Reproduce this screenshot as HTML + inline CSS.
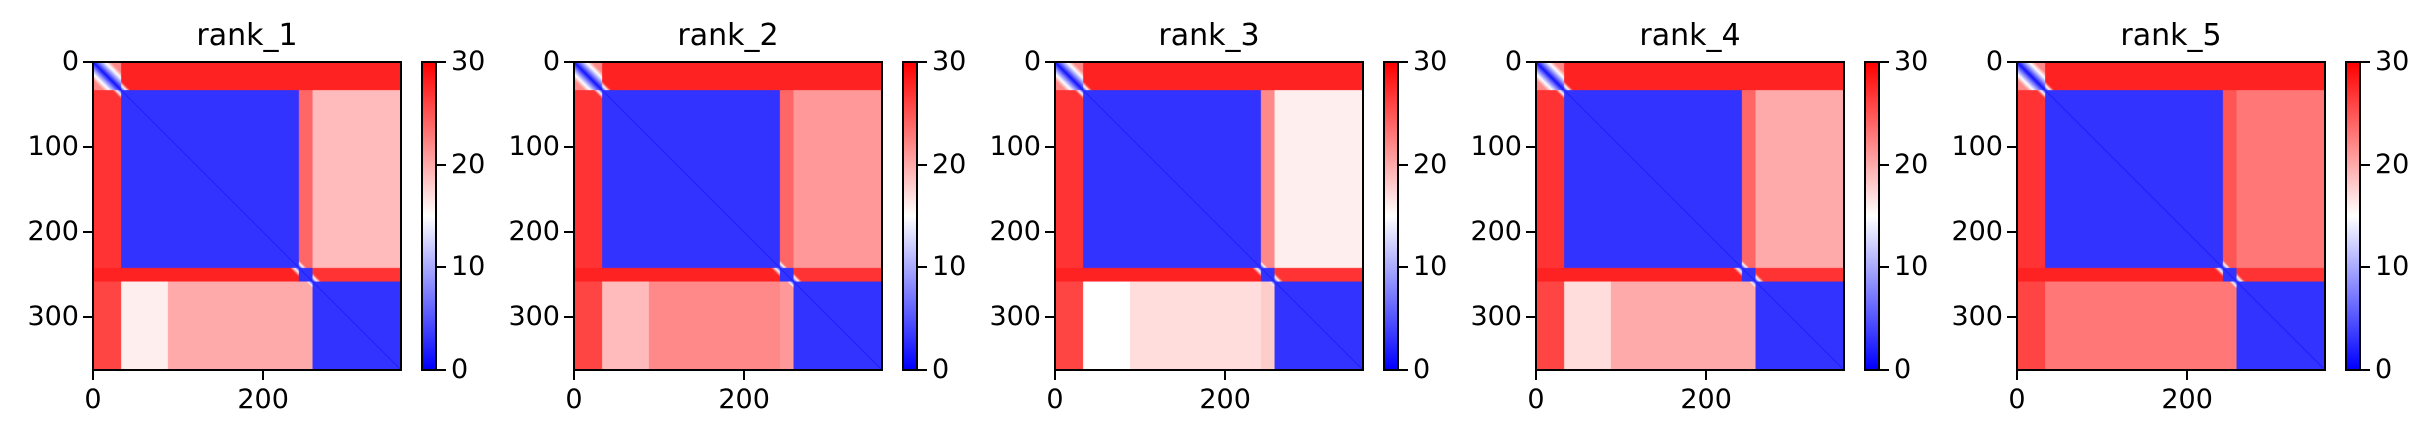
<!DOCTYPE html>
<html><head><meta charset="utf-8">
<style>
body{margin:0;background:#fff;width:2435px;height:438px;overflow:hidden;position:relative;font-family:"DejaVu Sans","Liberation Sans",sans-serif;}
canvas{position:absolute}
.frame{position:absolute;border:2px solid #000;box-sizing:border-box}
.cbar{position:absolute;background:linear-gradient(to top,#0000ff,#ffffff 50%,#ff0000);border:2px solid #000;box-sizing:border-box}
.t{position:absolute;font-size:27px;color:#000;line-height:1;white-space:nowrap}
.title{position:absolute;font-size:30px;line-height:1;white-space:nowrap}
.tk{position:absolute;background:#000}
</style></head><body>
<div id="root"></div>
<script>
// ---- data ----
const panelTitles = ["rank_1","rank_2","rank_3","rank_4","rank_5"];
const nRes = 362;
const segmentBounds = [0, 33, 88, 242, 258, 362]; // N-term, domain A1, domain A2, linker, domain B
// block PAE values per panel (rows x cols in segment order)
const pae1 = [[22,28,28,28,28],[27,3,3,24,19],[27,3,3,24,19],[28,28,28,3,27],[26,16,20,20,3]];
const pae2 = [[22,28,28,28,28],[27,3,3,24,21],[27,3,3,24,21],[28,28,28,3,27],[26,19,22,21,3]];
const pae3 = [[22,28,28,28,28],[27,3,3,22,16],[27,3,3,22,16],[28,28,28,3,27],[26,15,17,18,3]];
const pae4 = [[22,28,28,28,28],[27,3,3,24,20],[27,3,3,24,20],[28,28,28,3,27],[26,17,20,20,3]];
const pae5 = [[22,28,28,28,28],[27,3,3,25,23],[27,3,3,25,23],[28,28,28,3,27],[26,23,23,23,3]];
const panelPae = [pae1,pae2,pae3,pae4,pae5];
const xTicks = [0,200];
const yTicks = [0,100,200,300];
const cbTicks = [0,10,20,30];
const vmax = 30;

const root = document.getElementById('root');
const plotW = 308, plotTop = 62, panelStep = 481, firstLeft = 93;
function seg(i){for(let s=0;s<segmentBounds.length-1;s++){if(i<segmentBounds[s+1])return s;}return segmentBounds.length-2;}
function color(v){const t=Math.max(0,Math.min(1,v/vmax));
  if(t<0.5){const f=t/0.5;return [Math.round(255*f),Math.round(255*f),255];}
  const f=(t-0.5)/0.5;return [255,Math.round(255*(1-f)),Math.round(255*(1-f))];}
function mk(tag,cls,name,css){const e=document.createElement(tag);if(cls)e.className=cls;
  
  
  Object.assign(e.style,css);root.appendChild(e);return e;}

panelTitles.forEach((title,p)=>{
  const left = firstLeft + p*panelStep;
  const M = panelPae[p];
  const sx = v => left + v*plotW/nRes;
  const sy = v => plotTop + v*plotW/nRes;
  const cv = document.createElement('canvas');
  
  
  cv.width=nRes;cv.height=nRes;
  Object.assign(cv.style,{left:left+'px',top:plotTop+'px',width:plotW+'px',height:plotW+'px'});
  root.appendChild(cv);
  const ctx=cv.getContext('2d');const img=ctx.createImageData(nRes,nRes);
  for(let i=0;i<nRes;i++){const si=seg(i);for(let j=0;j<nRes;j++){const sj=seg(j);
    let v=M[si][sj];
    const d=Math.abs(i-j);v=Math.min(v,1+d*(si===0&&sj===0?1.0:2.5));
    const [r,g,b]=color(v);const k=(i*nRes+j)*4;
    img.data[k]=r;img.data[k+1]=g;img.data[k+2]=b;img.data[k+3]=255;}}
  ctx.putImageData(img,0,0);
  mk('div','frame','plot-frame-'+(p+1),{left:(left-1)+'px',top:(plotTop-1)+'px',width:(plotW+2)+'px',height:(plotW+2)+'px'});
  const tt=mk('div','title','panel-title-'+(p+1),{left:(left+plotW/2-60)+'px',width:'120px',textAlign:'center',top:'21px'});tt.textContent=title;
  yTicks.forEach(v=>{const y=sy(v);
    mk('div','tk','y-tick-'+v,{left:(left-10)+'px',top:(y-1)+'px',width:'10px',height:'2px'});
    const l=mk('div','t','y-tick-label-'+v,{left:(left-114)+'px',width:'100px',textAlign:'right',top:(y-14)+'px'});l.textContent=v;});
  xTicks.forEach(v=>{const x=sx(v);
    mk('div','tk','x-tick-'+v,{left:(x-1)+'px',top:(plotTop+plotW)+'px',width:'2px',height:'10px'});
    const l=mk('div','t','x-tick-label-'+v,{left:(x-50)+'px',width:'100px',textAlign:'center',top:(plotTop+plotW+16)+'px'});l.textContent=v;});
  const cbl=left+328;
  mk('div','cbar','colorbar-'+(p+1),{left:cbl+'px',top:(plotTop-1)+'px',width:'16px',height:(plotW+2)+'px'});
  cbTicks.forEach(v=>{const y=plotTop+plotW-v/vmax*plotW;
    mk('div','tk','colorbar-tick-'+v,{left:(cbl+16)+'px',top:(y-1)+'px',width:'9px',height:'2px'});
    const l=mk('div','t','colorbar-tick-label-'+v,{left:(cbl+30)+'px',top:(y-14)+'px'});l.textContent=v;});
});
</script>
</body></html>
